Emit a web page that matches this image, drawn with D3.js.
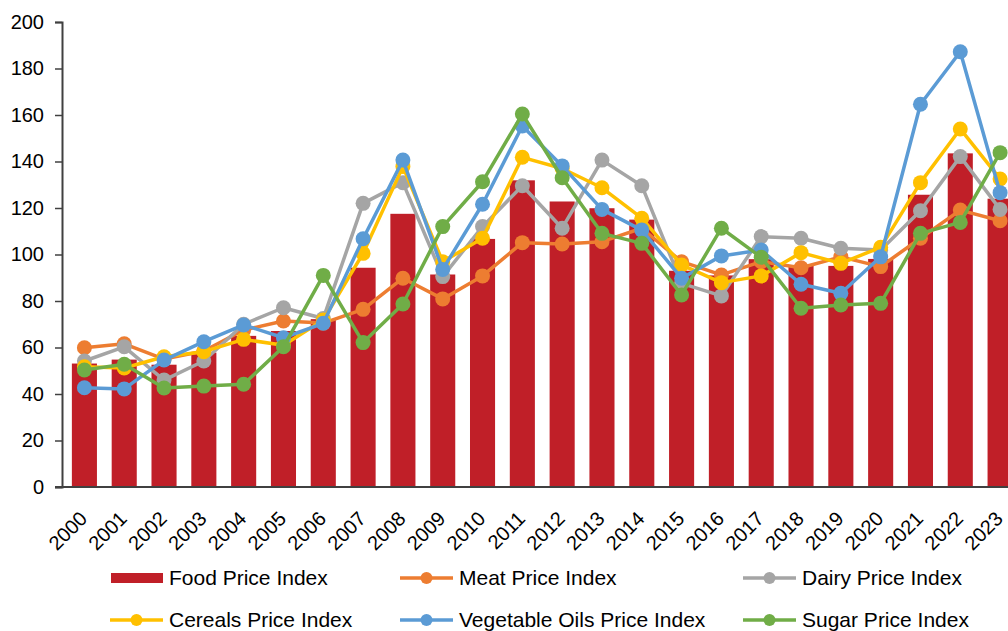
<!DOCTYPE html>
<html>
<head>
<meta charset="utf-8">
<script src="https://cdn.jsdelivr.net/npm/d3@7"></script>
<style>
    html, body { margin: 0; padding: 0; background: #fff; overflow: hidden; }
    svg text { font-family: "Liberation Sans", Arial, sans-serif; fill: #000; }
</style>
</head>
<body>
<div id="graphic"></div>
<script>
// Data
var years = ['2000','2001','2002','2003','2004','2005','2006','2007','2008','2009','2010','2011',
    '2012','2013','2014','2015','2016','2017','2018','2019','2020','2021','2022','2023'];

var foodIndex = [53.1, 54.8, 52.6, 57.8, 65.0, 67.1, 72.2, 94.3, 117.5, 91.4, 106.7, 131.9,
    122.8, 119.9, 115.0, 93.0, 91.0, 98.0, 95.2, 95.1, 98.1, 125.7, 143.5, 124.0];
var meatIndex = [59.9, 61.6, 55.0, 58.5, 67.5, 71.4, 70.5, 76.4, 89.8, 80.9, 90.8, 105.1,
    104.5, 105.5, 111.3, 96.9, 91.2, 96.9, 94.3, 99.0, 94.8, 107.0, 119.1, 114.5];
var dairyIndex = [54.2, 60.3, 46.0, 54.2, 70.0, 77.1, 72.5, 122.0, 130.9, 90.5, 112.0, 129.6,
    111.3, 140.6, 129.6, 87.6, 82.2, 107.7, 107.0, 102.7, 101.9, 118.8, 142.1, 119.4];
var cerealsIndex = [51.7, 51.2, 56.0, 58.2, 63.5, 61.0, 71.8, 100.5, 137.8, 96.9, 107.0, 141.8,
    137.0, 128.7, 115.6, 95.5, 87.9, 90.8, 100.8, 96.2, 103.1, 130.9, 154.0, 132.5];
var vegOilsIndex = [42.7, 42.2, 54.6, 62.5, 69.7, 64.2, 70.4, 106.8, 140.6, 93.6, 121.6, 155.3,
    138.1, 119.4, 110.5, 89.8, 99.4, 101.9, 87.2, 83.3, 99.0, 164.6, 187.2, 126.6];
var sugarIndex = [50.3, 52.8, 42.6, 43.4, 44.2, 60.3, 91.0, 62.1, 78.7, 112.0, 131.3, 160.4,
    133.0, 109.1, 104.8, 82.6, 111.3, 98.8, 76.9, 78.3, 79.0, 109.1, 113.8, 143.8];

var yTicks = [0, 20, 40, 60, 80, 100, 120, 140, 160, 180, 200];

var colors = {
    'red': '#c01f28', 'orange': '#ed7d31', 'gray': '#a5a5a5',
    'yellow': '#ffc000', 'blue': '#5b9bd5', 'green': '#70ad47'
};

var lineSeries = [
    { name: 'Meat Price Index', values: meatIndex, color: colors['orange'] },
    { name: 'Dairy Price Index', values: dairyIndex, color: colors['gray'] },
    { name: 'Cereals Price Index', values: cerealsIndex, color: colors['yellow'] },
    { name: 'Vegetable Oils Price Index', values: vegOilsIndex, color: colors['blue'] },
    { name: 'Sugar Price Index', values: sugarIndex, color: colors['green'] }
];

/*
 * Render the graphic.
 */
var render = function() {
    var width = 1008,
        height = 631;

    var containerElement = d3.select('#graphic');
    containerElement.html('');

    var svg = containerElement.append('svg')
        .attr('width', width)
        .attr('height', height);

    // plot extends a bit past the right edge, like the original
    var xScale = d3.scaleBand()
        .domain(years)
        .range([64.5, 1020])
        .paddingInner(0.37)
        .paddingOuter(0.185);

    var yScale = d3.scaleLinear()
        .domain([0, 200])
        .range([487, 22]);

    var cx = function(d, i) { return xScale(years[i]) + xScale.bandwidth() / 2; };

    // bars
    svg.append('g')
        .attr('class', 'bars')
        .selectAll('rect')
        .data(foodIndex)
        .enter().append('rect')
            .attr('x', function(d, i) { return xScale(years[i]); })
            .attr('y', function(d) { return yScale(d); })
            .attr('width', xScale.bandwidth())
            .attr('height', function(d) { return yScale(0) - yScale(d); })
            .attr('fill', colors['red']);

    // y axis
    var yAxis = d3.axisLeft(yScale)
        .tickValues(yTicks)
        .tickSize(7)
        .tickPadding(11);

    var yAxisG = svg.append('g')
        .attr('transform', 'translate(62,0)')
        .call(yAxis);
    yAxisG.select('.domain').attr('stroke', '#404040').attr('stroke-width', 2);
    yAxisG.selectAll('.tick line').attr('stroke', '#404040').attr('stroke-width', 1.5);
    yAxisG.selectAll('.tick text')
        .attr('font-size', '20px')
        .attr('font-family', '"Liberation Sans", Arial, sans-serif')
        .attr('fill', '#000');

    // x axis baseline
    svg.append('line')
        .attr('x1', 55)
        .attr('x2', width)
        .attr('y1', yScale(0))
        .attr('y2', yScale(0))
        .attr('stroke', '#404040')
        .attr('stroke-width', 2);

    // x labels
    svg.append('g')
        .attr('class', 'x-labels')
        .selectAll('text')
        .data(years)
        .enter().append('text')
            .attr('transform', function(d, i) {
                return 'translate(' + (cx(d, i) + 4) + ',520) rotate(-45)';
            })
            .attr('text-anchor', 'end')
            .attr('font-size', '20px')
            .text(function(d) { return d; });

    // lines
    var line = d3.line()
        .x(function(d, i) { return cx(d, i); })
        .y(function(d) { return yScale(d); });

    lineSeries.forEach(function(s) {
        var g = svg.append('g').attr('class', 'series');
        g.append('path')
            .datum(s.values)
            .attr('d', line)
            .attr('fill', 'none')
            .attr('stroke', s.color)
            .attr('stroke-width', 3.5)
            .attr('stroke-linejoin', 'round');
        g.selectAll('circle')
            .data(s.values)
            .enter().append('circle')
                .attr('cx', cx)
                .attr('cy', function(d) { return yScale(d); })
                .attr('r', 7.5)
                .attr('fill', s.color);
    });

    // legend
    var legendItems = [{ name: 'Food Price Index', color: colors['red'], bar: true }].concat(lineSeries);
    var colX = [110, 400, 743];
    var rowY = [578, 620];

    var legend = svg.append('g').attr('class', 'legend');

    legendItems.forEach(function(item, i) {
        var x = colX[i % 3],
            y = rowY[Math.floor(i / 3)];
        var g = legend.append('g')
            .attr('transform', 'translate(' + x + ',' + y + ')');

        if (item.bar) {
            g.append('rect')
                .attr('x', 1)
                .attr('y', -5)
                .attr('width', 52)
                .attr('height', 10)
                .attr('fill', item.color);
        } else {
            g.append('line')
                .attr('x1', 0)
                .attr('x2', 53)
                .attr('stroke', item.color)
                .attr('stroke-width', 3.5);
            g.append('circle')
                .attr('cx', 26.5)
                .attr('r', 6)
                .attr('fill', item.color);
        }

        g.append('text')
            .attr('x', 59)
            .attr('dy', '0.35em')
            .attr('font-size', '21px')
            .text(item.name);
    });
}

window.onload = render;
</script>
</body>
</html>
